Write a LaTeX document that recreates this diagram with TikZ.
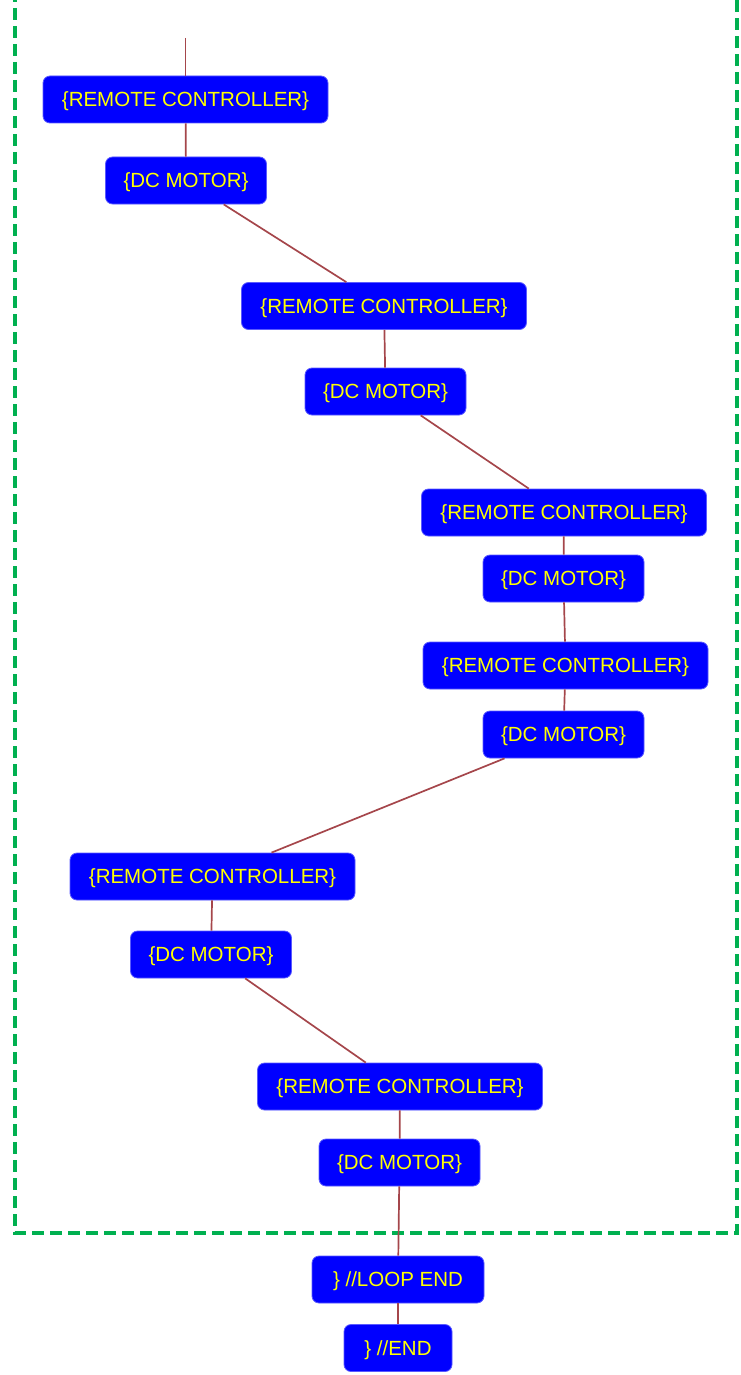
\documentclass[tikz,border=0pt]{standalone}
\usepackage{fontspec}
\setmainfont{Liberation Sans}
\definecolor{nodeblue}{RGB}{0,0,255}
\definecolor{nodeedge}{RGB}{90,90,255}
\definecolor{textyellow}{RGB}{255,255,0}
\definecolor{linkred}{RGB}{165,70,75}
\definecolor{loopgreen}{RGB}{0,176,80}
\usetikzlibrary{positioning}

\begin{document}
\begin{tikzpicture}[
      x=1pt, y=-1pt,
      block/.style={draw=nodeedge, line width=0.8pt, fill=nodeblue, rounded corners=7pt, minimum height=47pt, inner sep=0pt, text depth=0pt, text=textyellow, font=\fontsize{20.5}{22}\selectfont},
      ctrl/.style={block, minimum width=285pt},
      motor/.style={block, minimum width=161pt},
      link/.style={draw=linkred, line width=1.7pt},
      loopbox/.style={draw=loopgreen, line width=3.6pt, dash pattern=on 12pt off 6pt}
    ]
      \useasboundingbox (0,0) rectangle (740,1375);

      % Loop frame (top edge lies outside the picture)
      \draw[loopbox] (15,-10) -- (15,1233) -- (737,1233) -- (737,-10);

      % Loop body
      \coordinate (entry) at (185.5,38);
      \node[ctrl]  (rc1) at (185.5,99.5)  {\{REMOTE CONTROLLER\}};
      \node[motor] (dc1) at (186,180.5)   {\{DC MOTOR\}};
      \node[ctrl]  (rc2) at (384,306)     {\{REMOTE CONTROLLER\}};
      \node[motor] (dc2) at (385.5,391.5) {\{DC MOTOR\}};
      \node[ctrl]  (rc3) at (564,512.5)   {\{REMOTE CONTROLLER\}};
      \node[motor] (dc3) at (563.5,578.5) {\{DC MOTOR\}};
      \node[ctrl]  (rc4) at (565.5,665.5) {\{REMOTE CONTROLLER\}};
      \node[motor] (dc4) at (563.5,734.5) {\{DC MOTOR\}};
      \node[ctrl]  (rc5) at (212.5,876.5) {\{REMOTE CONTROLLER\}};
      \node[motor] (dc5) at (211,954.5)   {\{DC MOTOR\}};
      \node[ctrl]  (rc6) at (400,1086.5)  {\{REMOTE CONTROLLER\}};
      \node[motor] (dc6) at (399.5,1162.5) {\{DC MOTOR\}};

      % Closing nodes
      \node[block, minimum width=172pt] (loopend) at (398,1279.5) {\} //LOOP END};
      \node[block, minimum width=108pt] (progend) at (398,1348) {\} //END};

      % Connectors
      \draw[link] (entry) -- (rc1);
      \draw[link] (rc1) -- (dc1);
      \draw[link] (dc1) -- (rc2);
      \draw[link] (rc2) -- (dc2);
      \draw[link] (dc2) -- (rc3);
      \draw[link] (rc3) -- (dc3);
      \draw[link] (dc3) -- (rc4);
      \draw[link] (rc4) -- (dc4);
      \draw[link] (dc4) -- (rc5);
      \draw[link] (rc5) -- (dc5);
      \draw[link] (dc5) -- (rc6);
      \draw[link] (rc6) -- (dc6);
      \draw[link] (dc6) -- (loopend);
      \draw[link] (loopend) -- (progend);
    \end{tikzpicture}
\end{document}
